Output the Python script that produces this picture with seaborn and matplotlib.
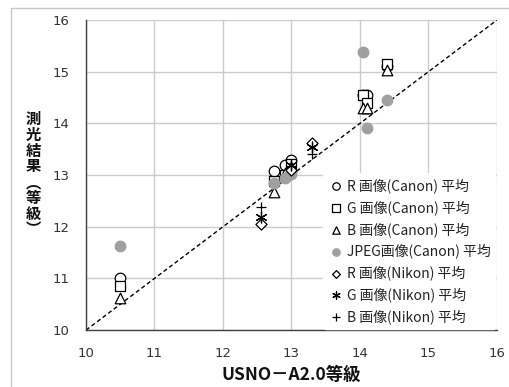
import numpy as np
import pandas as pd
import seaborn as sns
import matplotlib.pyplot as plt
from matplotlib.patches import Rectangle

# USNO-A2.0 catalog magnitude of each star (Canon / Nikon sets)
canon_x = [10.5, 12.75, 12.9, 13.0, 14.05, 14.1, 14.4]
canon_r = [11.0, 13.08, 13.2, 13.3, 14.55, 14.55, 15.12]
canon_g = [10.85, 12.88, 13.0, 13.22, 14.55, 14.4, 15.15]
canon_b = [10.62, 12.68, 13.05, 13.15, 14.3, 14.3, 15.03]
canon_jpeg = [11.63, 12.85, 12.95, 13.02, 15.38, 13.92, 14.45]

nikon_x = [12.55, 13.0, 13.3]
nikon_r = [12.05, 13.1, 13.63]
nikon_g = [12.18, 13.2, 13.55]
nikon_b = [12.38, 13.18, 13.4]

line_xy = [10, 16]
ticks = [10, 11, 12, 13, 14, 15, 16]

labels = ["R 画像(Canon) 平均", "G 画像(Canon) 平均", "B 画像(Canon) 平均",
          "JPEG画像(Canon) 平均", "R 画像(Nikon) 平均", "G 画像(Nikon) 平均",
          "B 画像(Nikon) 平均"]

sns.set_theme(style="whitegrid")
plt.rcParams['font.family'] = ['Noto Sans CJK JP', 'DejaVu Sans']
plt.rcParams['axes.unicode_minus'] = False

fig = plt.figure(figsize=(5.09, 3.87), dpi=100)
ax = fig.add_axes([0.169, 0.147, 0.807, 0.801])

# reference line y = x
sns.lineplot(x=line_xy, y=line_xy, ax=ax, color="black", lw=1.0,
             linestyle=(0, (3, 2)), zorder=2)

series = [
    (canon_x, canon_r, "o", "white", "black"),
    (canon_x, canon_g, "s", "white", "black"),
    (canon_x, canon_b, "^", "white", "black"),
    (canon_x, canon_jpeg, "o", "#a0a0a0", "#a0a0a0"),
    (nikon_x, nikon_r, "D", "white", "black"),
    (nikon_x, nikon_g, (6, 2, 0), "black", "black"),
    (nikon_x, nikon_b, "+", "black", "black"),
]
for (xs, ys, mk, fc, ec), lab in zip(series, labels):
    size = 32 if mk == "D" else 58
    if mk in ("+", (6, 2, 0)):
        sns.scatterplot(x=xs, y=ys, ax=ax, marker=mk, color=ec, s=60,
                        linewidth=0.9, label=lab, zorder=3)
    else:
        sns.scatterplot(x=xs, y=ys, ax=ax, marker=mk, color=fc, edgecolor=ec,
                        s=size, linewidth=0.9, label=lab, zorder=3)

ax.set_xlim(10, 16)
ax.set_ylim(10, 16)
ax.set_xticks(ticks)
ax.set_yticks(ticks)
ax.grid(True, color="#cccccc", lw=1.0)
for s in ["top", "right"]:
    ax.spines[s].set_visible(False)
for s in ["left", "bottom"]:
    ax.spines[s].set_color("#404040")
    ax.spines[s].set_linewidth(1.0)
ax.tick_params(axis="both", which="major", direction="out", length=4,
               width=1, color="#404040", labelsize=9.5, labelcolor="#333333",
               pad=8)
for t in ax.get_xticklabels() + ax.get_yticklabels():
    t.set_fontfamily("DejaVu Sans")
ax.set_xlabel("")
ax.set_ylabel("")

leg = ax.legend(loc="lower right", bbox_to_anchor=(1.0, 0.0), frameon=True,
                fontsize=10, labelspacing=0.5, handletextpad=0.15,
                handlelength=1.2, borderpad=0.35, borderaxespad=0.1,
                markerscale=0.7)
leg.get_frame().set_facecolor("white")
leg.get_frame().set_edgecolor("white")
leg.get_frame().set_alpha(1.0)
for t in leg.get_texts():
    t.set_color("#222222")

fig.text(0.573, 0.03, "USNO－A2.0等級", ha="center", va="center",
         fontsize=12.5, fontweight="bold", color="#111111")
fig.text(0.065, 0.55, "測\n光\n結\n果\n︵\n等\n級\n︶", ha="center", va="center",
         fontsize=11, fontweight="bold", color="#111111", linespacing=0.98)

# light outer chart border (cropped at top / right)
fig.patches.append(Rectangle((11 / 509, -0.1), 1.2, 1.1 - 8 / 387,
                             transform=fig.transFigure, fill=False,
                             edgecolor="#c8c8c8", lw=1.0, zorder=0))

fig.savefig("out.png", dpi=100)
